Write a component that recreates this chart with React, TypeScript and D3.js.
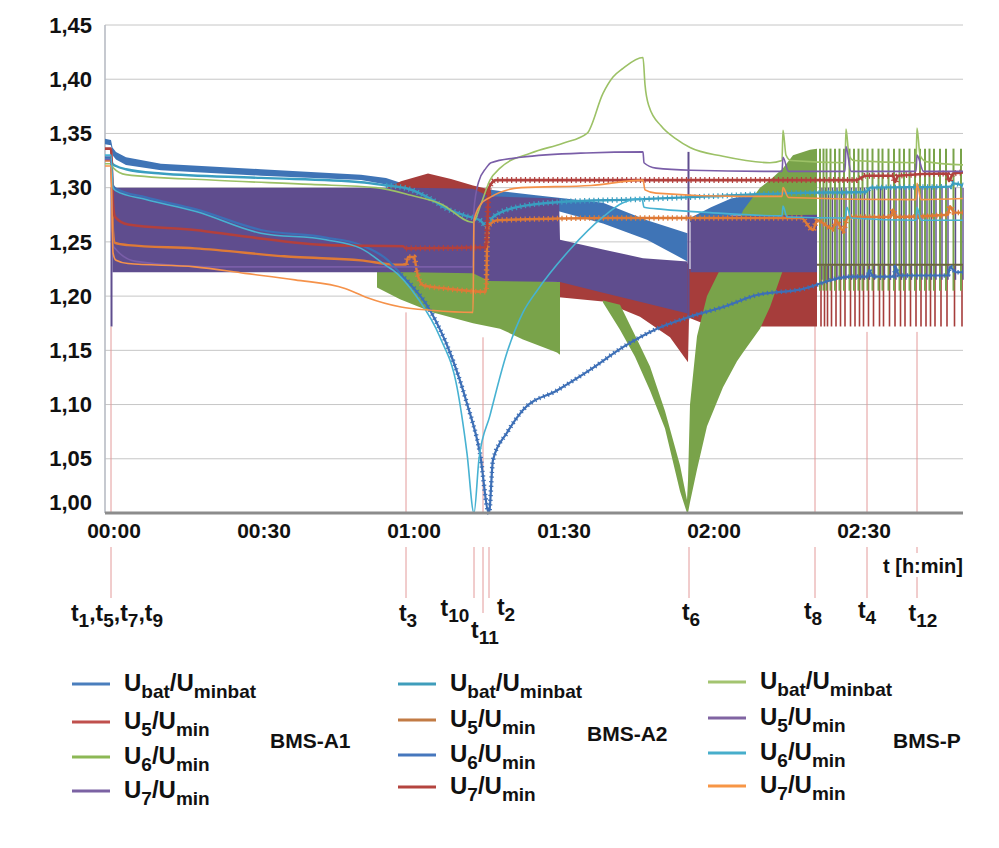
import React from 'react';
import * as d3 from 'd3';

type Pt = [number, number];          // [minutes, U/Umin]
type Band = [number, number, number]; // [minutes, low, high] envelope of dense balancing oscillation

// ---------- BMS-A1 (dense switching, read as envelopes) ----------
const a1UbatBand: Band[][] = [
  [[-1.2, 1.340, 1.345], [0, 1.339, 1.344], [0.3, 1.330, 1.337], [1, 1.326, 1.333], [3, 1.321, 1.328],
   [10, 1.316, 1.322], [30, 1.311, 1.317], [50, 1.307, 1.312], [55, 1.303, 1.309], [59, 1.297, 1.303],
   [65, 1.295, 1.300], [76, 1.292, 1.298], [85, 1.284, 1.293], [98.4, 1.267, 1.286], [107.2, 1.252, 1.270],
   [115.3, 1.232, 1.258]],
  [[115.8, 1.268, 1.272], [120, 1.271, 1.282], [124, 1.274, 1.290], [130, 1.275, 1.295], [136, 1.275, 1.296]],
];
const a1U5Band: Band[][] = [
  [[54.4, 1.292, 1.298], [58, 1.292, 1.306], [63.4, 1.292, 1.313], [68, 1.292, 1.308], [72.4, 1.292, 1.302],
   [76, 1.290, 1.298]],
  [[89.6, 1.199, 1.230], [98.4, 1.195, 1.230], [105.8, 1.181, 1.230], [111.8, 1.162, 1.230], [115.4, 1.139, 1.230],
   [115.6, 1.180, 1.225], [120, 1.172, 1.225], [141.2, 1.172, 1.225]],
];
const a1U6Band: Band[][] = [
  [[53.2, 1.208, 1.225], [57.8, 1.197, 1.225], [64.4, 1.185, 1.225], [72.4, 1.175, 1.225], [77.8, 1.170, 1.220],
   [82.4, 1.160, 1.215], [89.2, 1.148, 1.213], [89.8, 1.146, 1.213]],
  [[98.4, 1.194, 1.196], [101.8, 1.169, 1.192], [104.8, 1.144, 1.164], [107.8, 1.113, 1.135], [110.8, 1.078, 1.094],
   [113.8, 1.020, 1.044], [115.2, 1.000, 1.012], [115.4, 1.000, 1.030], [115.8, 1.010, 1.100], [117.2, 1.040, 1.163],
   [119.2, 1.080, 1.200], [122.4, 1.116, 1.230], [125.2, 1.140, 1.265], [126.4, 1.148, 1.279], [129.8, 1.170, 1.300],
   [131.8, 1.190, 1.307], [134.4, 1.224, 1.318], [136.4, 1.230, 1.330], [139.8, 1.240, 1.335], [141.2, 1.240, 1.336]],
];
const a1U7Band: Band[][] = [
  [[0.3, 1.222, 1.300], [20, 1.222, 1.300], [40, 1.222, 1.300], [60, 1.222, 1.300], [72.4, 1.221, 1.299],
   [75.6, 1.214, 1.292], [89.6, 1.213, 1.290], [89.8, 1.213, 1.252], [98.4, 1.203, 1.243], [106.4, 1.194, 1.235],
   [115.3, 1.184, 1.232]],
  [[115.9, 1.222, 1.272], [125, 1.222, 1.274], [141.2, 1.222, 1.275]],
];
const a1U7Glitches: Band[] = [[0.1, 1.172, 1.300], [115.5, 1.182, 1.333]];
const a1SpikeTimes = [141.8, 142.5, 143.1, 143.9, 144.8, 145.7, 146.6, 147.7, 148.6, 149.5, 150.3, 151.3, 152.3,
  153.5, 154.3, 155.5, 156.6, 157.7, 158.6, 159.7, 160.8, 161.8, 162.8, 163.7, 164.6, 165.8, 167.0, 168.5, 170.0];
const a1SpikeU6: [number, number] = [1.205, 1.336];
const a1SpikeU7: [number, number] = [1.215, 1.300];
const a1SpikeU5: [number, number] = [1.172, 1.228];
const a1Floor: Pt[] = [[141.2, 1.229], [170.4, 1.229]];

// ---------- BMS-A2 ----------
const a2Ubat: Pt[] = [[-1.2, 1.327], [0, 1.327], [0.3, 1.322], [1, 1.320], [3, 1.317], [10, 1.313], [30, 1.309],
  [50, 1.305], [55, 1.302], [59.4, 1.299], [63.8, 1.290], [67, 1.281], [71, 1.274], [73.8, 1.270], [75.2, 1.264],
  [76.4, 1.273], [81.2, 1.282], [90.4, 1.287], [103.8, 1.289], [119.8, 1.292], [135.8, 1.295], [151, 1.296],
  [151.8, 1.300], [168, 1.301], [168.4, 1.304], [170.4, 1.302]];
const a2U5: Pt[] = [[-1.2, 1.325], [0, 1.325], [0.4, 1.260], [0.8, 1.249], [3.4, 1.247], [16.8, 1.244], [36.8, 1.236],
  [50, 1.233], [56.8, 1.229], [59, 1.229], [59.4, 1.236], [60.6, 1.236], [61.2, 1.222], [62.4, 1.210], [67, 1.207],
  [75, 1.204], [75.3, 1.262], [76, 1.267], [77.2, 1.270], [100, 1.272], [138, 1.272], [140.4, 1.261], [141.2, 1.270],
  [144.4, 1.262], [145, 1.270], [146.4, 1.260], [147.4, 1.273], [156, 1.273], [156.4, 1.280], [157, 1.273],
  [167.4, 1.275], [167.8, 1.283], [168.6, 1.277], [170.4, 1.277]];
const a2U6: Pt[] = [[-1.2, 1.328], [0, 1.328], [0.4, 1.302], [1, 1.299], [7, 1.291], [17, 1.280], [30, 1.261],
  [43, 1.254], [50, 1.247], [55.4, 1.233], [58, 1.220], [63.8, 1.187], [67.8, 1.148], [71.2, 1.101], [73.8, 1.055],
  [75.6, 1.000], [76.4, 1.049], [79.2, 1.074], [82.4, 1.095], [89.2, 1.113], [95.8, 1.132], [102.4, 1.153],
  [109.2, 1.170], [115.8, 1.181], [122.4, 1.190], [129.2, 1.201], [137.8, 1.206], [147.8, 1.218], [151.4, 1.218],
  [151.6, 1.224], [152.4, 1.218], [156.6, 1.218], [156.9, 1.227], [157.6, 1.219], [167.4, 1.219], [167.8, 1.227],
  [169, 1.222], [170.4, 1.222]];
const a2U7: Pt[] = [[-1.2, 1.336], [0, 1.336], [0.4, 1.285], [0.8, 1.273], [3.4, 1.266], [16.8, 1.261], [26.8, 1.255],
  [43.4, 1.247], [58.4, 1.246], [59, 1.244], [75, 1.245], [75.6, 1.300], [77, 1.307], [149, 1.307], [151, 1.311],
  [156.4, 1.311], [156.8, 1.305], [157.4, 1.311], [167.2, 1.313], [167.6, 1.306], [168.4, 1.313], [170.4, 1.314]];

// ---------- BMS-P ----------
const pUbat: Pt[] = [[-1.2, 1.322], [0, 1.322], [0.5, 1.318], [3, 1.312], [20, 1.307], [40, 1.303], [53, 1.300],
  [60, 1.293], [66, 1.285], [72.4, 1.268], [74, 1.285], [75.8, 1.307], [77.8, 1.318], [84, 1.332], [90.4, 1.341],
  [95.2, 1.350], [98.4, 1.387], [100.4, 1.402], [102.4, 1.410], [106.4, 1.420], [106.8, 1.395], [107.6, 1.375],
  [110, 1.357], [113, 1.345], [115.8, 1.337], [122.4, 1.329], [131.8, 1.323], [134.2, 1.325], [134.4, 1.353],
  [135, 1.330], [136, 1.325], [146.8, 1.323], [147, 1.354], [147.6, 1.330], [148.6, 1.325], [161, 1.323],
  [161.2, 1.355], [161.8, 1.330], [163, 1.324], [170.4, 1.321]];
const pU5: Pt[] = [[-1.2, 1.326], [0, 1.326], [0.4, 1.247], [1, 1.243], [5, 1.232], [20, 1.227], [72.4, 1.227],
  [72.6, 1.280], [73.5, 1.305], [75, 1.318], [76, 1.323], [82, 1.328], [95, 1.332], [106.4, 1.333], [106.6, 1.323],
  [109, 1.318], [116, 1.316], [134.2, 1.315], [134.4, 1.328], [135.5, 1.315], [146.8, 1.315], [147, 1.338],
  [148, 1.315], [161, 1.315], [161.2, 1.330], [162.5, 1.315], [170.4, 1.315]];
const pU6: Pt[] = [[-1.2, 1.330], [0, 1.330], [0.4, 1.300], [1, 1.297], [7, 1.289], [17, 1.278], [30, 1.258],
  [43, 1.252], [50, 1.244], [55.4, 1.227], [56.4, 1.224], [61.2, 1.199], [65.8, 1.162], [69.2, 1.116], [71.2, 1.055],
  [72.6, 1.000], [73.6, 1.050], [75.8, 1.090], [79.2, 1.148], [82.4, 1.185], [85.2, 1.205], [91.8, 1.243],
  [98.4, 1.273], [102.4, 1.286], [106.2, 1.290], [106.6, 1.282], [110.4, 1.280], [119.8, 1.277], [134.2, 1.274],
  [134.4, 1.283], [135.2, 1.273], [146.8, 1.272], [147.2, 1.282], [148, 1.272], [161, 1.270], [161.2, 1.282],
  [162, 1.270], [170.4, 1.270]];
const pU7: Pt[] = [[-1.2, 1.320], [0, 1.320], [0.4, 1.240], [1, 1.233], [3.4, 1.230], [16.8, 1.227], [26.8, 1.221],
  [36.8, 1.215], [46.8, 1.207], [51, 1.199], [58, 1.190], [64, 1.187], [72.4, 1.185], [72.6, 1.270], [74, 1.285],
  [75.8, 1.291], [82, 1.300], [96, 1.302], [106.4, 1.307], [106.8, 1.298], [109, 1.295], [125, 1.292], [134.2, 1.292],
  [134.4, 1.300], [135.5, 1.291], [161, 1.289], [161.2, 1.304], [162, 1.289], [170.4, 1.290]];

// ---------- axes / markers / legend ----------
const yTicks = [1.0, 1.05, 1.1, 1.15, 1.2, 1.25, 1.3, 1.35, 1.4, 1.45];
const timeTicks = [0, 30, 60, 90, 120, 150];
const markerSubs = [['1', '5', '7', '9'], ['3'], ['10'], ['11'], ['2'], ['6'], ['8'], ['4'], ['12']];
const markerTimes = [0, 59, 72.6, 74.4, 75.6, 115.6, 140.8, 151.2, 161.2];
const markerTops: (number | null)[] = [1.172, 1.185, null, 1.162, null, null, 1.174, 1.167, 1.167];
const legendGroups = ['BMS-A1', 'BMS-A2', 'BMS-P'];
const legendSubs: [string, string][] = [['bat', 'minbat'], ['5', 'min'], ['6', 'min'], ['7', 'min']];

// layout (pixels) for label placement
const markerLabelDx = [6, 2, -19, 2, 17, 2, -2, 0, 6];
const markerLabelY = [621, 621, 616, 638, 615, 620, 619, 618, 621];
const legendX = [72, 398, 708];
const legendRows = [[684, 722, 757, 791], [684, 720, 755, 787], [682, 718, 753, 786]];
const legendGroupPos = [[270, 748], [587, 741], [893, 748]];

const C = {
  a1Ubat: '#3f74b6', a1U5: '#a63d3b', a1U6: '#79a34a', a1U7: '#5f4d8e',
  a2Ubat: '#3a9ec0', a2U5: '#de7a37', a2U6: '#3d6fb6', a2U7: '#b2403d',
  pUbat: '#9cc166', pU5: '#7a5ea8', pU6: '#47b2d2', pU7: '#f5924a',
};
const legendColors = [
  ['#4a7ebd', '#c0504d', '#8cb855', '#7b62a3'],
  ['#3f9dbb', '#c27b44', '#4677bd', '#b4443f'],
  ['#a3c470', '#8064a2', '#47aecb', '#f79646'],
];

const FONT = "'Liberation Sans', Arial, Helvetica, sans-serif";

const x = d3.scaleLinear().domain([-1.2, 170.4]).range([105, 963]);
const y = d3.scaleLinear().domain([1.0, 1.45]).range([513, 25]);
const fmtY = d3.formatLocale({ decimal: ',', thousands: '.', grouping: [3], currency: ['', ''] }).format('.2f');
const fmtT = (m: number) => `${String(Math.floor(m / 60)).padStart(2, '0')}:${String(m % 60).padStart(2, '0')}`;

const lineGen = d3.line<Pt>().x(d => x(d[0])).y(d => y(d[1])).curve(d3.curveMonotoneX);
const areaGen = d3.area<Band>().x(d => x(d[0])).y0(d => y(d[1])).y1(d => y(d[2]));

const lineSeries = [
  { data: a2Ubat, color: C.a2Ubat, w: 2.4, ripple: 55, rw: 5.5 },
  { data: a2U5, color: C.a2U5, w: 2.4, ripple: 59, rw: 5.5 },
  { data: a2U6, color: C.a2U6, w: 2.2, ripple: 56, rw: 4.5 },
  { data: a2U7, color: C.a2U7, w: 2.6, ripple: 59, rw: 6 },
  { data: pUbat, color: C.pUbat, w: 1.6, ripple: null, rw: 0 },
  { data: pU5, color: C.pU5, w: 1.6, ripple: null, rw: 0 },
  { data: pU6, color: C.pU6, w: 1.6, ripple: null, rw: 0 },
  { data: pU7, color: C.pU7, w: 1.6, ripple: null, rw: 0 },
];

type Part = { t: string; sub?: boolean };
function rich(parts: Part[], main: number, sub: number, shift: number) {
  let cur = 0;
  return parts.map((p, i) => {
    const target = p.sub ? shift : 0;
    const dy = target - cur;
    cur = target;
    return (
      <tspan key={i} dy={dy} fontSize={p.sub ? sub : main}>{p.t}</tspan>
    );
  });
}

const App: React.FC = () => {
  const [x0, x1] = x.range();
  return (
    <div style={{ position: 'absolute', left: 0, top: 0 }}>
      <svg width={999} height={848} fontFamily={FONT} style={{ display: 'block', background: '#fff' }}>
        {/* grid */}
        {yTicks.filter(v => v > 1.0).map(v => (
          <line key={v} x1={x0} x2={x1} y1={y(v)} y2={y(v)} stroke="#c6c6c6" strokeWidth={1} />
        ))}
        <line x1={x0} x2={x0} y1={y(1.45)} y2={y(1.0)} stroke="#b8bcc4" strokeWidth={1.6} />

        {/* event markers inside the plot */}
        {markerTimes.map((t, i) => markerTops[i] == null ? null : (
          <line key={'mi' + i} x1={x(t)} x2={x(t)} y1={y(markerTops[i] as number)} y2={y(1.0)}
            stroke="#e39a9a" strokeWidth={1} />
        ))}

        {/* BMS-A1 envelopes (Excel series order) */}
        {a1UbatBand.map((s, i) => <path key={'ub' + i} d={areaGen(s) || ''} fill={C.a1Ubat} />)}
        {a1U5Band.map((s, i) => <path key={'u5' + i} d={areaGen(s) || ''} fill={C.a1U5} />)}
        {a1U6Band.map((s, i) => <path key={'u6' + i} d={areaGen(s) || ''} fill={C.a1U6} />)}
        {a1U7Band.map((s, i) => <path key={'u7' + i} d={areaGen(s) || ''} fill={C.a1U7} />)}
        {a1U7Glitches.map((g, i) => (
          <line key={'gl' + i} x1={x(g[0])} x2={x(g[0])} y1={y(g[1])} y2={y(g[2])} stroke={C.a1U7} strokeWidth={2} />
        ))}
        {a1SpikeTimes.map((t, i) => (
          <g key={'sp' + i}>
            <line x1={x(t) + 1} x2={x(t) + 1} y1={y(a1SpikeU5[0])} y2={y(a1SpikeU5[1])} stroke={C.a1U5} strokeWidth={1.6} />
            <line x1={x(t)} x2={x(t)} y1={y(a1SpikeU6[0])} y2={y(a1SpikeU6[1])} stroke={C.a1U6} strokeWidth={2} />
            <line x1={x(t) + 2} x2={x(t) + 2} y1={y(a1SpikeU7[0])} y2={y(a1SpikeU7[1])} stroke={C.a1U7} strokeWidth={1.4} />
          </g>
        ))}
        <path d={lineGen(a1Floor) || ''} fill="none" stroke="#6c6440" strokeWidth={2} />

        {/* BMS-A2 and BMS-P lines */}
        {lineSeries.map((s, i) => (
          <g key={'ls' + i}>
            <path d={lineGen(s.data) || ''} fill="none" stroke={s.color} strokeWidth={s.w} strokeLinejoin="round" />
            {s.ripple != null && (
              <path d={lineGen(s.data.filter(d => d[0] >= (s.ripple as number))) || ''} fill="none"
                stroke={s.color} strokeWidth={s.rw} strokeDasharray="1.2 3.4" />
            )}
          </g>
        ))}

        {/* x axis */}
        <line x1={x0} x2={x1} y1={y(1.0)} y2={y(1.0)} stroke="#8c8c8c" strokeWidth={3} />

        {/* y tick labels */}
        {yTicks.map(v => (
          <text key={'yl' + v} x={92} y={Math.min(y(v), y(1.0) - 11)} dy="0.35em" textAnchor="end"
            fontSize={22} fontWeight="bold" fill="#111">{fmtY(v)}</text>
        ))}
        {/* x tick labels */}
        {timeTicks.map(t => (
          <text key={'xl' + t} x={x(t) + 3} y={538} textAnchor="middle" fontSize={21} fontWeight="bold"
            fill="#111">{fmtT(t)}</text>
        ))}

        {/* marker lines below the axis + labels */}
        {markerTimes.map((t, i) => (
          <line key={'mo' + i} x1={x(t)} x2={x(t)} y1={547} y2={i === 3 ? 613 : 598} stroke="#e39a9a" strokeWidth={1} />
        ))}
        <rect x={878} y={553} width={88} height={24} fill="#fff" />
        <text x={963} y={573} textAnchor="end" fontSize={20} fontWeight="bold" fill="#111">t [h:min]</text>
        {markerTimes.map((t, i) => {
          const parts: Part[] = [];
          markerSubs[i].forEach((n, k) => {
            parts.push({ t: k === 0 ? 't' : ',t' });
            parts.push({ t: n, sub: true });
          });
          return (
            <text key={'ml' + i} x={x(t) + markerLabelDx[i]} y={markerLabelY[i]} textAnchor="middle"
              fontWeight="bold" fill="#111">{rich(parts, 23, 19, 6)}</text>
          );
        })}

        {/* legend */}
        {legendGroups.map((g, gi) => (
          <g key={g}>
            {legendSubs.map((sub, ri) => {
              const ly = legendRows[gi][ri];
              return (
                <g key={ri}>
                  <line x1={legendX[gi]} x2={legendX[gi] + 38} y1={ly} y2={ly} stroke={legendColors[gi][ri]} strokeWidth={3} />
                  <text x={legendX[gi] + 52} y={ly + 7} fontWeight="bold" fill="#111">
                    {rich([{ t: 'U' }, { t: sub[0], sub: true }, { t: '/U' }, { t: sub[1], sub: true }], 24, 19, 7)}
                  </text>
                </g>
              );
            })}
            <text x={legendGroupPos[gi][0]} y={legendGroupPos[gi][1]} fontSize={21} fontWeight="bold" fill="#111">{g}</text>
          </g>
        ))}
      </svg>
    </div>
  );
};

export default App;
